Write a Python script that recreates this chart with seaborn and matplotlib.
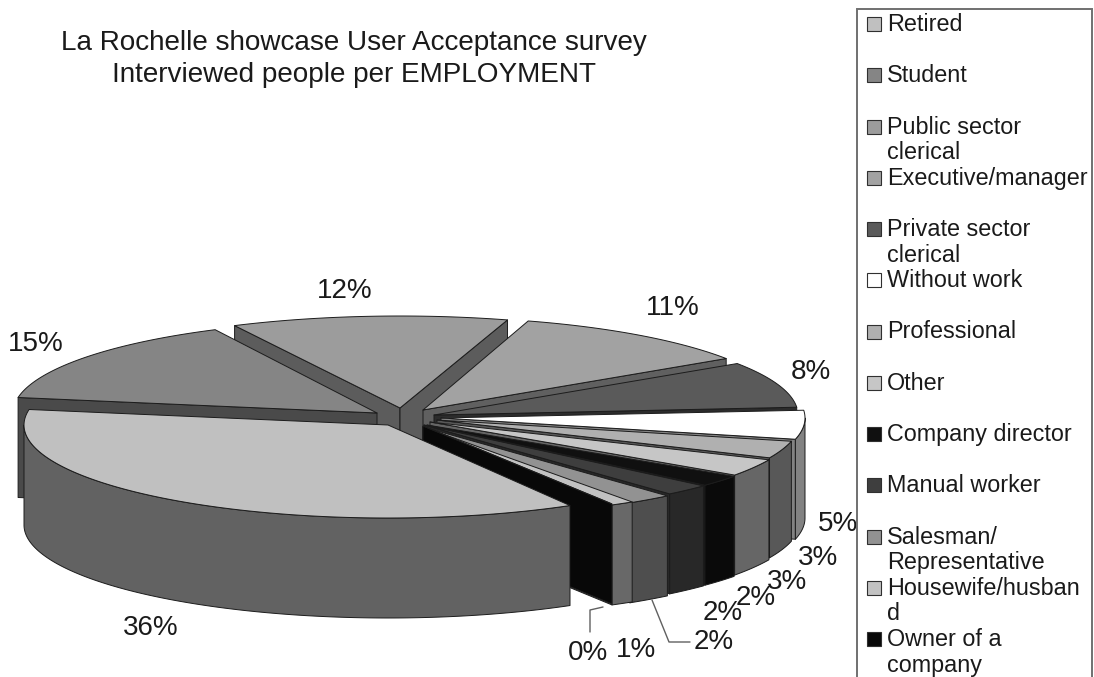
import numpy as np
import matplotlib
matplotlib.use("Agg")
import matplotlib.pyplot as plt
from matplotlib.patches import Rectangle
import seaborn as sns

# Survey shares, in legend order (clockwise from the lower right of the pie)
employment = ["Retired", "Student", "Public sector\nclerical", "Executive/manager",
              "Private sector\nclerical", "Without work", "Professional", "Other",
              "Company director", "Manual worker", "Salesman/\nRepresentative",
              "Housewife/husban\nd", "Owner of a\ncompany"]
shares = [36, 15, 12, 11, 8, 5, 3, 3, 2, 2, 2, 1, 0]

top_colours = ["#c0c0c0", "#858585", "#9c9c9c", "#a2a2a2", "#5a5a5a", "#ffffff", "#b0b0b0",
               "#c6c6c6", "#101010", "#3e3e3e", "#929292", "#c2c2c2", "#080808"]
side_colours = ["#626262", "#4a4a4a", "#5c5c5c", "#606060", "#2c2c2c", "#828282", "#585858",
                "#666666", "#0a0a0a", "#282828", "#4e4e4e", "#686868", "#080808"]

# How far each slice is pulled away from the pie centre, in pixels
explode_x = [-27, -38, -15, 8, 19, 26, 22, 15, 12, 9, 8, 8, 8]
explode_y = [8, -4, -9, -7, -2, 1, 3, 5, 8, 8, 10, 10, 9]

# Horizontal and vertical rim radius per slice: the near slices read slightly wider
rim_x = [364, 364, 372, 364, 364, 364, 364, 371, 374, 376, 374, 378, 378]
rim_y = [93, 93, 92, 93, 93, 93, 93, 93, 90, 91, 91, 90, 90]

# Percentage label anchors and the leader lines of the crowded small slices
label_x = [151, 36, 345, 673, 811, 838, 818, 787, 756, 723, 714, 636, 588]
label_y = [628, 344, 291, 308, 372, 524, 558, 582, 598, 613, 642, 650, 653]
leader_salesman = ([652, 669, 690], [600, 642, 642])
leader_owner = ([603, 590, 590], [607, 610, 632])

START_ANGLE = -60.0
CENTRE = (415.0, 417.0)
DEPTH = 100.0
PAINT_ORDER = [2, 1, 3, 4, 5, 6, 7, 8, 9, 10, 11, 12, 0]

sns.set_theme(style="white")
plt.rcParams["font.family"] = ["Liberation Sans", "DejaVu Sans"]

fig = plt.figure(figsize=(10.94, 6.77), dpi=100, facecolor="white")
ax = fig.add_axes([0, 0, 1, 1])
ax.set_xlim(0, 1094)
ax.set_ylim(677, 0)
ax.axis("off")

EDGE = dict(edgecolor="#1c1c1c", linewidth=0.7, joinstyle="round")


def arc(cx, cy, rx, ry, a0, a1, drop=0.0):
    """Points on the elliptical rim between two angles (degrees, math convention)."""
    t = np.radians(np.linspace(a0, a1, max(2, int(abs(a1 - a0) * 2) + 2)))
    return cx + rx * np.cos(t), cy - ry * np.sin(t) + drop


def draw_slice(i, a_start, a_end):
    cx = CENTRE[0] + explode_x[i]
    cy = CENTRE[1] + explode_y[i]
    rx, ry = rim_x[i], rim_y[i]

    # radial cut faces turned towards the viewer
    for ang, visible in ((a_start, np.cos(np.radians(a_start)) < 0),
                         (a_end, np.cos(np.radians(a_end)) > 0)):
        if visible:
            px = cx + rx * np.cos(np.radians(ang))
            py = cy - ry * np.sin(np.radians(ang))
            ax.fill([cx, px, px, cx], [cy, py, py + DEPTH, cy + DEPTH],
                    facecolor=side_colours[i], **EDGE)

    # outer wall: only the stretch of rim on the near half of the ellipse
    for turn in (0.0, -360.0):
        near_hi = min(a_start, turn)
        near_lo = max(a_end, turn - 180.0)
        if near_hi > near_lo:
            xs, ys = arc(cx, cy, rx, ry, near_lo, near_hi)
            xb, yb = arc(cx, cy, rx, ry, near_lo, near_hi, DEPTH)
            ax.fill(np.r_[xs, xb[::-1]], np.r_[ys, yb[::-1]],
                    facecolor=side_colours[i], **EDGE)

    # top surface
    xs, ys = arc(cx, cy, rx, ry, a_start, a_end)
    ax.fill(np.r_[cx, xs], np.r_[cy, ys], facecolor=top_colours[i], **EDGE)


sweeps = np.array(shares, dtype=float) / sum(shares) * 360.0
starts = START_ANGLE - np.r_[0.0, np.cumsum(sweeps)[:-1]]
ends = starts - sweeps
for i in PAINT_ORDER:
    draw_slice(i, starts[i], ends[i])

ax.plot(*leader_salesman, color="#606060", linewidth=1.0)
ax.plot(*leader_owner, color="#606060", linewidth=1.0)

for share, x, y in zip(shares, label_x, label_y):
    ax.text(x, y, f"{share}%", fontsize=20, color="#1a1a1a", ha="center", va="center", zorder=2)

ax.text(354, 59, "La Rochelle showcase User Acceptance survey\nInterviewed people per EMPLOYMENT",
        fontsize=20.1, color="#1a1a1a", ha="center", va="center", linespacing=1.33)

# Legend panel runs off the lower edge of the figure
ax.add_patch(Rectangle((857, 9), 235, 700, facecolor="white", edgecolor="#707070",
                       linewidth=1.4, zorder=3))
for k, (name, colour) in enumerate(zip(employment, top_colours)):
    yc = 24 + 51.25 * k
    ax.add_patch(Rectangle((867, yc - 7), 14, 14, facecolor=colour, edgecolor="#303030",
                           linewidth=0.8, zorder=4))
    ax.text(887, yc - 11, name, fontsize=16.8, color="#1a1a1a", ha="left", va="top",
            linespacing=1.15, zorder=4)

fig.savefig("out.png", dpi=100, facecolor="white")
